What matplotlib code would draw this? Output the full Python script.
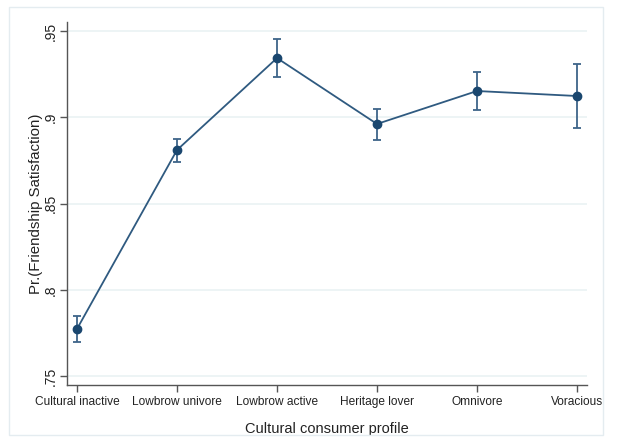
import matplotlib
matplotlib.use("Agg")
import matplotlib.pyplot as plt
from matplotlib.patches import Rectangle

plt.rcParams['font.family'] = ['Liberation Sans', 'DejaVu Sans']

profiles = ["Cultural inactive", "Lowbrow univore", "Lowbrow active",
            "Heritage lover", "Omnivore", "Voracious"]
prob = [0.7773, 0.8810, 0.9343, 0.8961, 0.9152, 0.9123]
ci_low = [0.7698, 0.8741, 0.9233, 0.8868, 0.9042, 0.8938]
ci_high = [0.7848, 0.8874, 0.9454, 0.9048, 0.9265, 0.9306]
yticks = [0.75, 0.80, 0.85, 0.90, 0.95]
ytick_labels = [".75", ".8", ".85", ".9", ".95"]

W, H = 617, 441
fig = plt.figure(figsize=(W / 100, H / 100), dpi=100)
fig.patch.set_facecolor("white")

# outer graph frame
fig.add_artist(Rectangle((9 / W, 1 - 435 / H), (603 - 9) / W, (435 - 7) / H,
                         transform=fig.transFigure, fill=False,
                         edgecolor="#e4ecf0", linewidth=1.0))

ax = fig.add_axes([67 / W, 1 - 385 / H, (587 - 67) / W, (385 - 22) / H])
navy = "#1a476f"
x = list(range(len(profiles)))

yerr = [[p - lo for p, lo in zip(prob, ci_low)],
        [hi - p for p, hi in zip(prob, ci_high)]]
ax.errorbar(x, prob, yerr=yerr, fmt="none", ecolor="#3e6489",
            elinewidth=1.3, capsize=2.6, capthick=1.3, zorder=3)
ax.plot(x, prob, color="#2f5a80", linewidth=1.3, zorder=4)
ax.plot(x, prob, "o", color=navy, markersize=6, zorder=5)

ax.set_xlim(-0.1, 5.1)
ax.set_ylim(0.7448, 0.9552)
ax.set_xticks(x)
ax.set_xticklabels(profiles, fontsize=8.6, color="#222222")
ax.set_yticks(yticks)
ax.set_yticklabels(ytick_labels, fontsize=10, rotation=90, va="center",
                   color="#222222")
for t in yticks:
    ax.axhline(t, color="#eaf2f3", linewidth=1.2, zorder=1)

for s in ["top", "right"]:
    ax.spines[s].set_visible(False)
for s in ["left", "bottom"]:
    ax.spines[s].set_color("#555555")
    ax.spines[s].set_linewidth(1.0)
ax.tick_params(axis="both", color="#555555", length=5, width=1.0)
ax.tick_params(axis="x", pad=3)
ax.tick_params(axis="y", pad=2)

ax.set_xlabel("Cultural consumer profile", fontsize=10.5, color="#222222",
              labelpad=10)
ax.set_ylabel("Pr.(Friendship Satisfaction)", fontsize=10.8, color="#222222",
              labelpad=0)

fig.savefig("out.png", dpi=100)
